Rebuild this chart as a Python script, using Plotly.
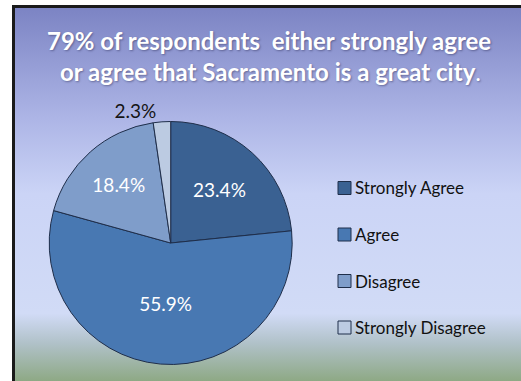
import base64
import plotly.graph_objects as go

# Survey responses: "Sacramento is a great city"
categories = ["Strongly Agree", "Agree", "Disagree", "Strongly Disagree"]
shares = [23.4, 55.9, 18.4, 2.3]
slice_colors = ["#3a6192", "#4878b2", "#7f9dca", "#bccbe2"]

W, H = 521, 381
FONT = "Lato"

# Vertical background gradient (purple at top, pale blue, green-grey at bottom)
gradient_svg = f"""<svg xmlns='http://www.w3.org/2000/svg' width='{W}' height='{H}' preserveAspectRatio='none'>
<defs><linearGradient id='g' x1='0' y1='0' x2='0' y2='1'>
<stop offset='0' stop-color='#7b83c3'/>
<stop offset='0.3' stop-color='#adb5e6'/>
<stop offset='0.5' stop-color='#cbd4f6'/>
<stop offset='0.82' stop-color='#d1dbf6'/>
<stop offset='0.9' stop-color='#b0c1c8'/>
<stop offset='1' stop-color='#8ea985'/>
</linearGradient></defs>
<rect x='0' y='0' width='{W}' height='{H}' fill='url(#g)'/>
</svg>"""
gradient_uri = "data:image/svg+xml;base64," + base64.b64encode(gradient_svg.encode()).decode()


def px_x(x):
    return x / W


def px_y(y):
    return 1 - y / H


fig = go.Figure()

fig.add_trace(go.Pie(
    labels=categories,
    values=shares,
    sort=False,
    direction="clockwise",
    rotation=0,
    marker=dict(colors=slice_colors, line=dict(color="#1f2e4a", width=1)),
    texttemplate="%{value:.1f}%",
    textposition=["inside", "inside", "inside", "outside"],
    insidetextorientation="horizontal",
    textfont=dict(family=FONT, size=19),
    insidetextfont=dict(family=FONT, size=19, color="white"),
    outsidetextfont=dict(family=FONT, size=19, color="#151515"),
    showlegend=False,
    hoverinfo="label+percent",
    domain=dict(x=[px_x(49.2), px_x(292.2)], y=[px_y(364.5), px_y(121.5)]),
))

# Legend: coloured squares with category names, one row per category
legend_x, legend_y0, legend_step, box = 338, 188, 46.5, 13
shapes = []
annotations = []
for i, (name, col) in enumerate(zip(categories, slice_colors)):
    cy = legend_y0 + i * legend_step
    shapes.append(dict(
        type="rect", xref="paper", yref="paper",
        x0=px_x(legend_x), x1=px_x(legend_x + box),
        y0=px_y(cy + box / 2), y1=px_y(cy - box / 2),
        fillcolor=col, line=dict(color="#1f2e4a", width=1),
    ))
    annotations.append(dict(
        text=name, xref="paper", yref="paper",
        x=px_x(legend_x + box + 2), y=px_y(cy),
        xanchor="left", yanchor="middle", showarrow=False,
        font=dict(family=FONT, size=17, color="#111111"),
    ))

# Frame lines along the left and top edges
shapes.append(dict(type="line", xref="paper", yref="paper",
                   x0=px_x(13.5), x1=px_x(13.5), y0=0, y1=px_y(5),
                   line=dict(color="#1a1a1a", width=3)))
shapes.append(dict(type="line", xref="paper", yref="paper",
                   x0=px_x(12), x1=1, y0=px_y(6.5), y1=px_y(6.5),
                   line=dict(color="#1a1a1a", width=3)))

title_shadow = "1px 1px 2px rgba(40,40,80,0.45)"
annotations.append(dict(
    text="79% of respondents\u00a0 either strongly agree",
    xref="paper", yref="paper", x=px_x(268.5), y=px_y(41),
    xanchor="center", yanchor="middle", showarrow=False,
    font=dict(family=FONT, size=24, color="white", weight="bold", shadow=title_shadow),
))
annotations.append(dict(
    text="or agree that Sacramento is a great city<span style='font-weight:normal'>.</span>",
    xref="paper", yref="paper", x=px_x(270), y=px_y(71),
    xanchor="center", yanchor="middle", showarrow=False,
    font=dict(family=FONT, size=24, color="white", weight="bold", shadow=title_shadow),
))

fig.update_layout(
    width=W, height=H,
    margin=dict(l=0, r=0, t=0, b=0),
    font=dict(family=FONT),
    paper_bgcolor="white",
    plot_bgcolor="rgba(0,0,0,0)",
    images=[dict(source=gradient_uri, xref="paper", yref="paper",
                 x=px_x(13), y=px_y(6), sizex=1 - px_x(13), sizey=px_y(6),
                 xanchor="left", yanchor="top", sizing="stretch", layer="below")],
    shapes=shapes,
    annotations=annotations,
)

fig.write_html("out.html")
